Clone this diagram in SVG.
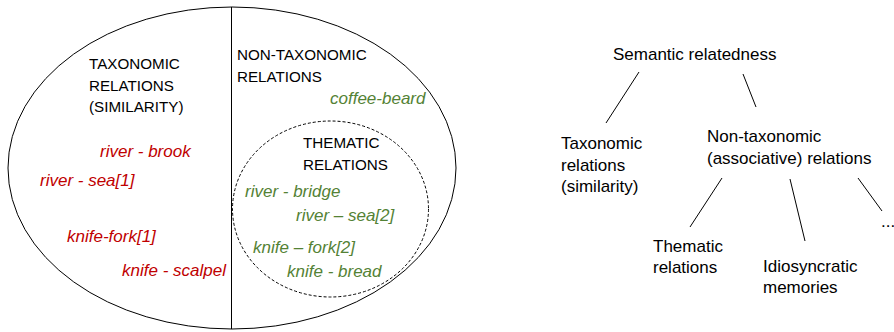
<svg xmlns="http://www.w3.org/2000/svg" width="894" height="332" viewBox="0 0 894 332">
<style>
text{font-family:"Liberation Sans",Arial,sans-serif;font-size:17px;fill:#000}
.cap{font-size:15.2px}
.red{fill:#C00000;font-style:italic}
.grn{fill:#548235;font-style:italic}
.ln{stroke:#000;stroke-width:1;fill:none}
</style>
<rect width="894" height="332" fill="#fff"/>
<g id="venn">
<ellipse cx="232" cy="168" rx="224" ry="161" class="ln"/>
<line x1="231.5" y1="7" x2="231.5" y2="329" class="ln"/>
<ellipse cx="330.5" cy="209" rx="98" ry="88" class="ln" stroke-dasharray="3,2"/>
<text class="cap" x="89" y="69">TAXONOMIC</text>
<text class="cap" x="89" y="91">RELATIONS</text>
<text class="cap" x="89" y="112">(SIMILARITY)</text>
<text class="cap" x="237" y="60">NON-TAXONOMIC</text>
<text class="cap" x="237" y="82">RELATIONS</text>
<text class="cap" x="303" y="148">THEMATIC</text>
<text class="cap" x="303" y="170">RELATIONS</text>
<text class="grn" x="330" y="104">coffee-beard</text>
<text class="red" x="100" y="157">river - brook</text>
<text class="red" x="40" y="186">river - sea[1]</text>
<text class="red" x="67" y="242">knife-fork[1]</text>
<text class="red" x="122" y="276">knife - scalpel</text>
<text class="grn" x="245" y="197">river - bridge</text>
<text class="grn" x="296" y="221">river – sea[2]</text>
<text class="grn" x="253" y="253">knife – fork[2]</text>
<text class="grn" x="287" y="277">knife - bread</text>
</g>
<g id="n-root"><text x="613" y="60">Semantic relatedness</text></g>
<g id="n-tax"><text x="561" y="149">Taxonomic</text><text x="561" y="171">relations</text><text x="561" y="192">(similarity)</text></g>
<g id="n-nontax"><text x="707" y="142">Non-taxonomic</text><text x="707" y="164">(associative) relations</text></g>
<g id="n-them"><text x="653" y="252">Thematic</text><text x="653" y="273">relations</text></g>
<g id="n-idio"><text x="763" y="272">Idiosyncratic</text><text x="763" y="293">memories</text></g>
<g id="n-more"><text x="881" y="227">...</text></g>
<g id="connectors">
<line x1="639" y1="72" x2="606" y2="123" class="ln"/>
<line x1="743" y1="74" x2="756" y2="107" class="ln"/>
<line x1="722" y1="178" x2="690" y2="227" class="ln"/>
<line x1="790" y1="179" x2="805" y2="241" class="ln"/>
<line x1="858" y1="178" x2="882" y2="211" class="ln"/>
</g>
</svg>
